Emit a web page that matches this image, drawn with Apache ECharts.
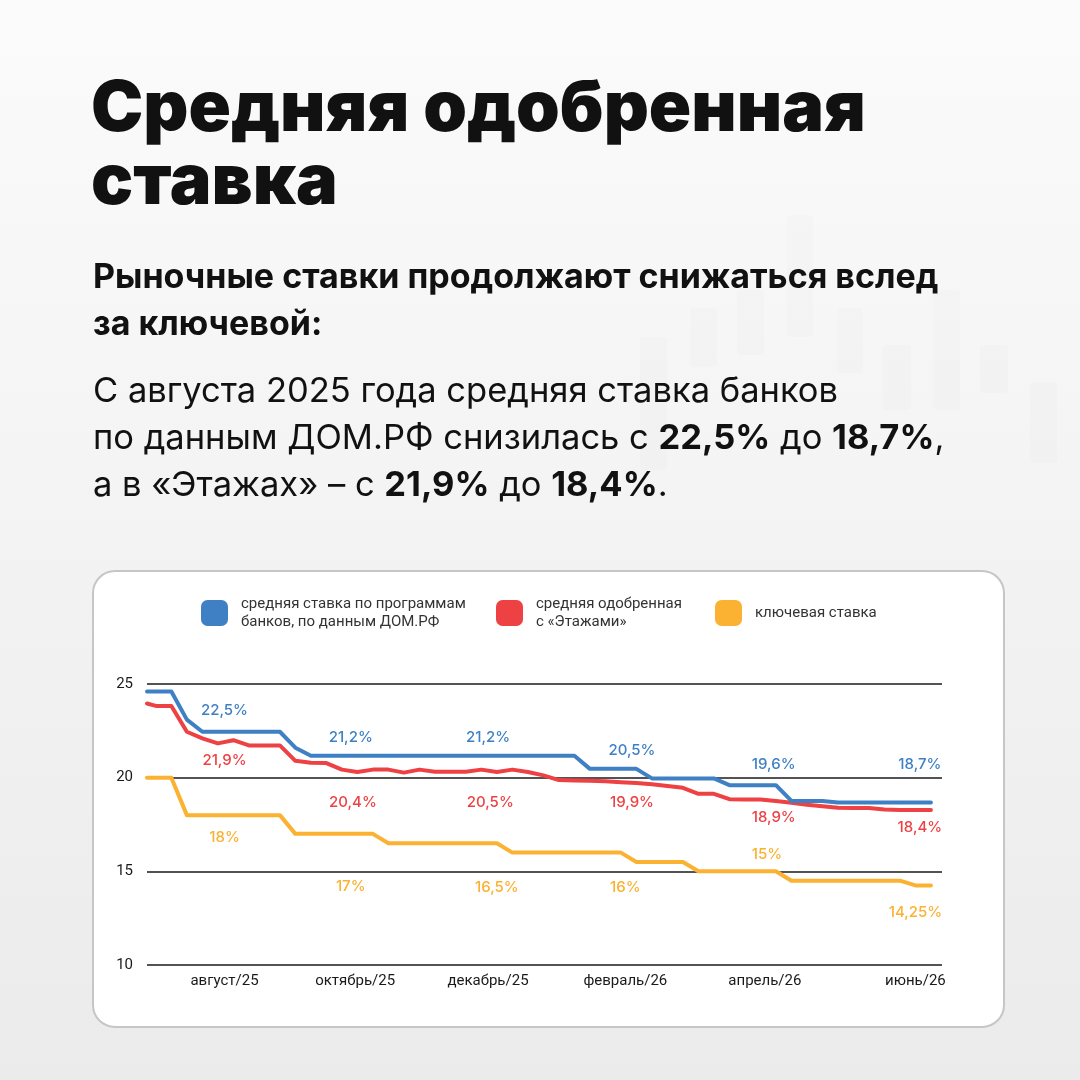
<!DOCTYPE html>
<html>
<head>
<meta charset="utf-8">
<script src="https://cdn.jsdelivr.net/npm/echarts@6/dist/echarts.min.js"></script>
<style>html,body{margin:0;padding:0;background:#f5f5f5;}#c{width:1080px;height:1080px;}</style>
</head>
<body>
<div id="c"></div>
<script>
// ---------- DATA ----------
const weekDates = ['2025-07-10','2025-07-14','2025-07-21','2025-07-28','2025-08-04','2025-08-11','2025-08-18','2025-08-25',
  '2025-09-01','2025-09-08','2025-09-15','2025-09-22','2025-09-29','2025-10-06','2025-10-13','2025-10-20','2025-10-27',
  '2025-11-03','2025-11-10','2025-11-17','2025-11-24','2025-12-01','2025-12-08','2025-12-15','2025-12-22','2025-12-29',
  '2026-01-05','2026-01-12','2026-01-19','2026-01-26','2026-02-02','2026-02-09','2026-02-16','2026-02-23',
  '2026-03-02','2026-03-09','2026-03-16','2026-03-23','2026-03-30','2026-04-06','2026-04-13','2026-04-20','2026-04-27',
  '2026-05-04','2026-05-11','2026-05-18','2026-05-25','2026-06-01','2026-06-08','2026-06-15','2026-06-22','2026-06-29'];

const domrfRate = [24.6,24.6,24.6,23.1,22.45,22.45,22.45,22.45,
  22.45,22.45,21.6,21.17,21.17,21.17,21.17,21.17,21.17,
  21.17,21.17,21.17,21.17,21.17,21.17,21.17,21.17,21.17,
  21.17,21.17,21.17,20.47,20.47,20.47,20.47,19.96,
  19.96,19.96,19.96,19.96,19.6,19.6,19.6,19.6,18.76,
  18.76,18.76,18.67,18.67,18.67,18.67,18.67,18.67,18.67];

const etazhiRate = [23.96,23.83,23.83,22.45,22.1,21.83,22.0,21.72,
  21.72,21.72,20.9,20.8,20.78,20.43,20.3,20.43,20.43,
  20.27,20.43,20.32,20.32,20.32,20.43,20.3,20.43,20.3,
  20.12,19.87,19.85,19.83,19.81,19.76,19.72,19.65,
  19.56,19.46,19.14,19.14,18.85,18.84,18.84,18.75,18.66,
  18.56,18.48,18.4,18.38,18.38,18.3,18.27,18.27,18.27];

const keyRate = [20,20,20,18,18,18,18,18,
  18,18,17,17,17,17,17,17,16.5,
  16.5,16.5,16.5,16.5,16.5,16.5,16.5,16,16,
  16,16,16,16,16,16,15.5,15.5,
  15.5,15.5,15,15,15,15,15,15,14.5,
  14.5,14.5,14.5,14.5,14.5,14.5,14.5,14.25,14.25];

const seriesNames = ['средняя ставка по программам\nбанков, по данным ДОМ.РФ', 'средняя одобренная\nс «Этажами»', 'ключевая ставка'];

const axisStartDate = '2025-07-10';
const axisEndDate = '2026-07-04';
const monthTickDates = ['2025-08-14','2025-10-12','2025-12-11','2026-02-11','2026-04-15','2026-06-22'];
const monthTickLabels = ['август/25','октябрь/25','декабрь/25','февраль/26','апрель/26','июнь/26'];

const domrfNoteDates = ['2025-08-14','2025-10-10','2025-12-11','2026-02-14','2026-04-19','2026-06-24'];
const domrfNoteValues = [22.5, 21.2, 21.2, 20.5, 19.6, 18.7];
const etazhiNoteDates = ['2025-08-14','2025-10-11','2025-12-12','2026-02-14','2026-04-19','2026-06-24'];
const etazhiNoteValues = [21.9, 20.4, 20.5, 19.9, 18.9, 18.4];
const keyNoteDates = ['2025-08-14','2025-10-10','2025-12-15','2026-02-11','2026-04-16','2026-06-22'];
const keyNoteValues = [18, 17, 16.5, 16, 15, 14.25];

// ---------- STYLE ----------
const colors = ['#3F80C4', '#EE4143', '#FBB132'];
const domrfNoteDy = [-20, -18, -18, -18, -21, -38];
const etazhiNoteDy = [18, 32, 34, 23, 19, 20];
const keyNoteDy = [22, 53, 44, 35, -17, 27];

// day number since axis start (dates -> linear value axis)
const D = s => Math.round((Date.UTC(+s.slice(0,4), +s.slice(5,7) - 1, +s.slice(8,10)) -
  Date.UTC(+axisStartDate.slice(0,4), +axisStartDate.slice(5,7) - 1, +axisStartDate.slice(8,10))) / 86400000);
const fmtPct = v => String(v).replace('.', ',') + '%';

function notes(dates, vals, dys, color) {
  return {
    symbol: 'circle', symbolSize: 0.1, silent: true, animation: false,
    itemStyle: { color: 'rgba(0,0,0,0)' },
    label: { show: true, position: 'inside', color: color, fontFamily: 'Inter', fontSize: 15, fontWeight: 500,
      formatter: p => fmtPct(p.value) },
    data: dates.map((d, i) => ({ coord: [D(d), vals[i]], value: vals[i], label: { offset: [0, dys[i]] } }))
  };
}

function lineSeries(name, vals, color, z, mp) {
  return {
    name: name, type: 'line', z: z, showSymbol: false, symbol: 'none', smooth: false,
    data: weekDates.map((d, i) => [D(d), vals[i]]),
    lineStyle: { color: color, width: 4, join: 'round', cap: 'round' },
    itemStyle: { color: color },
    markPoint: mp
  };
}

const decoBars = [[640,337,27,133],[690,308,27,59],[737,290,27,65],[787,215,26,122],[837,308,26,65],
  [883,345,28,65],[933,290,27,120],[980,345,28,48],[1030,382,27,81]];

const legendText = { fontFamily: 'Roboto', fontSize: 15, lineHeight: 18, color: '#333' };

const option = {
  animation: false,
  backgroundColor: { type: 'linear', x: 0, y: 0, x2: 0, y2: 1,
    colorStops: [{ offset: 0, color: '#fbfbfb' }, { offset: 1, color: '#ebebeb' }] },
  graphic: [
    ...decoBars.map(b => ({ type: 'rect', z: -20, silent: true,
      shape: { x: b[0], y: b[1], width: b[2], height: b[3], r: 3 },
      style: { fill: 'rgba(0,0,0,0.012)' } })),
    { type: 'rect', z: -10, silent: true,
      shape: { x: 93, y: 571, width: 911, height: 456, r: 22 },
      style: { fill: '#ffffff', stroke: '#c6c6c6', lineWidth: 2 } }
  ],
  title: [
    { text: 'Средняя одобренная\nставка', left: 91, top: 73, padding: 0,
      textStyle: { fontFamily: 'Inter', fontWeight: 900, fontSize: 70, lineHeight: 73, color: '#111' } },
    { text: 'Рыночные ставки продолжают снижаться вслед\nза ключевой:', left: 93, top: 254, padding: 0,
      textStyle: { fontFamily: 'Inter', fontWeight: 700, fontSize: 34, lineHeight: 47, color: '#111' } },
    { text: 'С августа 2025 года средняя ставка банков\nпо данным ДОМ.РФ снизилась с {b|22,5%} до {b|18,7%},\nа в «Этажах» – с {b|21,9%} до {b|18,4%}.',
      left: 93, top: 368, padding: 0,
      textStyle: { fontFamily: 'Inter', fontWeight: 400, fontSize: 34.5, lineHeight: 47, color: '#111',
        rich: { b: { fontFamily: 'Inter', fontWeight: 700, fontSize: 34.5, lineHeight: 47, color: '#111' } } } }
  ],
  legend: [
    { data: [seriesNames[0]], left: 201, top: 588, padding: 0, itemWidth: 27, itemHeight: 26, icon: 'roundRect',
      selectedMode: false, textStyle: Object.assign({ padding: [14, 0, 0, 8] }, legendText) },
    { data: [seriesNames[1]], left: 496, top: 588, padding: 0, itemWidth: 27, itemHeight: 26, icon: 'roundRect',
      selectedMode: false, textStyle: Object.assign({ padding: [14, 0, 0, 8] }, legendText) },
    { data: [seriesNames[2]], left: 715, top: 600, padding: 0, itemWidth: 27, itemHeight: 26, icon: 'roundRect',
      selectedMode: false, textStyle: Object.assign({ padding: [0, 0, 4, 8] }, legendText) }
  ],
  grid: { left: 147, right: 138, top: 684, bottom: 115, containLabel: false, outerBoundsMode: 'none' },
  xAxis: {
    type: 'value', min: D(axisStartDate), max: D(axisEndDate),
    axisLine: { show: false }, axisTick: { show: false }, splitLine: { show: false },
    axisLabel: {
      customValues: monthTickDates.map(D),
      formatter: v => {
        let best = 0, bd = Infinity;
        monthTickDates.forEach((d, i) => { const dd = Math.abs(D(d) - v); if (dd < bd) { bd = dd; best = i; } });
        return monthTickLabels[best];
      },
      margin: 9, color: '#1a1a1a', fontFamily: 'Roboto', fontSize: 15, hideOverlap: false
    }
  },
  yAxis: {
    type: 'value', min: 10, max: 25, interval: 5,
    axisLine: { show: false }, axisTick: { show: false },
    splitLine: { lineStyle: { color: '#1a1a1a', width: 1.5 } },
    axisLabel: { margin: 14, color: '#1a1a1a', fontFamily: 'Roboto', fontSize: 15 }
  },
  series: [
    lineSeries(seriesNames[0], domrfRate, colors[0], 4, notes(domrfNoteDates, domrfNoteValues, domrfNoteDy, colors[0])),
    lineSeries(seriesNames[1], etazhiRate, colors[1], 3, notes(etazhiNoteDates, etazhiNoteValues, etazhiNoteDy, colors[1])),
    lineSeries(seriesNames[2], keyRate, colors[2], 2, notes(keyNoteDates, keyNoteValues, keyNoteDy, colors[2]))
  ]
};

const chart = echarts.init(document.getElementById('c'));
chart.setOption(option);
</script>
</body>
</html>
